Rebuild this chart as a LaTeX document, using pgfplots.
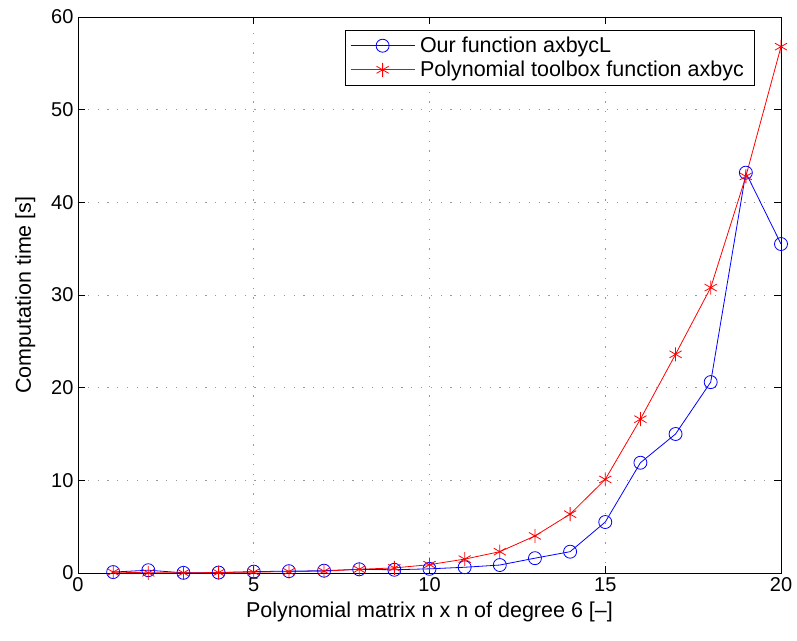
\documentclass[border=0pt]{standalone}
\usepackage{fontspec}
\setmainfont{Liberation Sans}
\usepackage{pgfplots}
\pgfplotsset{compat=1.18}
\begin{document}
\begin{tikzpicture}[x=1pt,y=1pt]
\path (-78pt,-67pt) rectangle (719pt,573pt);
\begin{axis}[
  at={(0pt,0pt)}, anchor=south west,
  scale only axis,
  width=703pt, height=556pt,
  xmin=0, xmax=20, ymin=0, ymax=60,
  xtick={0,5,10,15,20}, ytick={0,10,20,30,40,50,60},
  tick align=inside, tick pos=both,
  major tick length=7pt,
  grid=major,
  major grid style={gray!80, dash pattern=on 1.2pt off 8.6pt, line width=0.8pt},
  axis line style={line width=0.9pt},
  every tick/.style={black, line width=0.7pt},
  /pgf/number format/assume math mode=true,
  tick label style={font=\fontsize{20}{24}\selectfont},
  xticklabel style={yshift=-1pt},
  yticklabel style={xshift=-1pt},
  label style={font=\fontsize{21.5}{26}\selectfont},
  xlabel={Polynomial matrix n x n of degree 6 [\textendash]},
  ylabel={Computation time [s]},
  xlabel style={yshift=-3pt},
  ylabel style={yshift=9pt},
  legend style={at={(rel axis cs:0.962,0.977)}, anchor=north east,
    font=\fontsize{21.5}{26}\selectfont, line width=0.8pt,
    inner xsep=5pt, inner ysep=6pt, row sep=5pt,
    nodes={inner ysep=1pt, inner xsep=5pt}},
  legend cell align=left,
  legend image code/.code={
    \draw[mark repeat=2, mark phase=2, #1] plot coordinates {(0pt,0pt) (32pt,0pt) (64pt,0pt)};
  },
]
\addplot[blue, line width=0.8pt, mark=o, mark size=6.5pt, mark options={line width=0.8pt}] coordinates {
(1,0.1)(2,0.3)(3,0.02)(4,0.05)(5,0.15)(6,0.2)(7,0.25)(8,0.4)(9,0.35)(10,0.45)
(11,0.62)(12,0.86)(13,1.6)(14,2.3)(15,5.5)(16,11.9)(17,15.0)(18,20.6)(19,43.2)(20,35.5)};
\addlegendentry{Our function axbycL}
\addplot[red, line width=0.8pt, mark=asterisk, mark size=7pt, mark options={line width=0.8pt}] coordinates {
(1,0.1)(2,0.02)(3,0.02)(4,0.05)(5,0.1)(6,0.15)(7,0.2)(8,0.4)(9,0.55)(10,0.9)
(11,1.5)(12,2.3)(13,4.0)(14,6.35)(15,10.1)(16,16.6)(17,23.6)(18,30.8)(19,42.8)(20,56.8)};
\addlegendentry{Polynomial toolbox function axbyc}
\end{axis}
\end{tikzpicture}
\end{document}
